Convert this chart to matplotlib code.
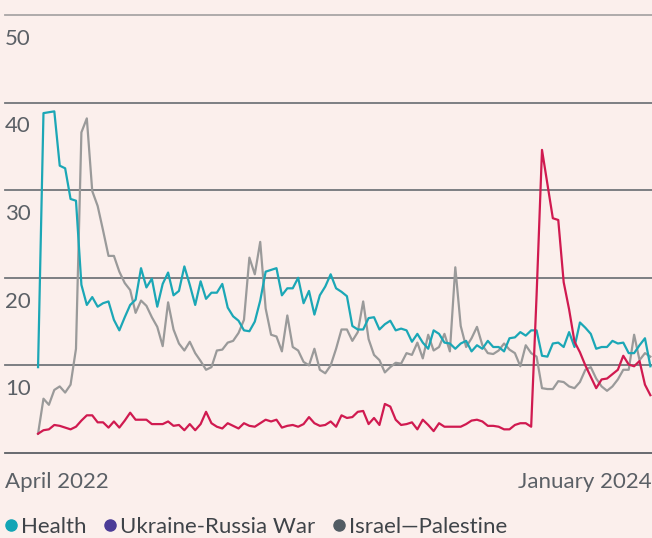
import matplotlib
matplotlib.use("Agg")
import matplotlib.pyplot as plt
from matplotlib.lines import Line2D

# weekly shares (April 2022 -> early 2024)
health = [9.8, 38.8, 38.9, 39.0, 32.8, 32.5, 29.0, 28.8, 19.2, 16.9, 17.8, 16.7, 17.1, 17.3, 15.2, 14.0,
          15.5, 16.9, 17.5, 21.1, 18.9, 19.9, 16.7,
          19.3, 20.6, 18.0, 18.5, 21.3, 19.2, 16.9, 19.6, 17.6, 18.3, 18.3, 19.3, 16.6, 15.6, 15.1, 14.0,
          13.9, 15.0,
          17.4, 20.7, 20.9, 21.1, 18.0, 18.8, 18.8, 20.0, 17.1, 18.5, 15.8, 18.0, 19.0, 20.4, 18.8, 18.4,
          17.9, 14.5, 14.1, 14.1, 15.4,
          15.5, 14.1, 14.7, 15.1, 14.0, 14.2, 14.0, 12.7, 13.6, 12.6, 11.9, 14.0, 13.6, 12.6, 12.5, 11.9,
          12.5, 12.8, 11.6,
          12.3, 11.9, 12.8, 12.1, 12.1, 11.6, 13.1, 13.2, 13.8, 13.4, 14.0, 14.0, 11.1, 11.0, 12.5, 12.6,
          12.1, 13.8, 12.1, 14.9,
          14.3, 13.6, 11.9, 12.1, 12.1, 12.8, 12.5, 12.6, 11.4, 11.4, 12.3, 13.1, 9.9]

ukraine_russia = [2.2, 2.6, 2.7, 3.2, 3.1, 2.9, 2.7, 3.0, 3.7, 4.3, 4.3, 3.5, 3.5, 2.9, 3.6, 2.9,
                  3.7, 4.6, 3.8, 3.8, 3.8, 3.3, 3.3,
                  3.3, 3.6, 3.1, 3.2, 2.6, 3.3, 2.6, 3.3, 4.7, 3.4, 3.0, 2.8, 3.4, 3.1, 2.8, 3.4, 3.1, 3.0,
                  3.4, 3.8, 3.6, 3.8, 2.9, 3.1, 3.2, 3.0, 3.3, 4.1, 3.4, 3.1, 3.2, 3.6, 3.0, 4.3, 4.0,
                  4.1, 4.7, 4.8, 3.3,
                  4.0, 3.2, 5.6, 5.3, 3.8, 3.2, 3.3, 3.5, 2.7, 3.8, 3.2, 2.5, 3.4, 3.0, 3.0, 3.0, 3.0,
                  3.3, 3.7,
                  3.8, 3.6, 3.1, 3.1, 3.0, 2.7, 2.7, 3.2, 3.4, 3.4, 3.0, 18.0, 34.6, 30.7, 26.8, 26.6,
                  19.5, 16.4, 12.7, 11.5,
                  10.0, 8.7, 7.4, 8.4, 8.5, 9.0, 9.5, 11.1, 10.1, 9.9, 10.5, 7.8, 6.6]

israel_palestine = [2.2, 6.2, 5.5, 7.2, 7.6, 6.9, 7.8, 11.9, 36.6, 38.2, 29.9, 28.2, 25.4, 22.5, 22.5,
                    20.7, 19.4, 18.6, 16.0, 17.4, 16.8, 15.5, 14.4,
                    12.2, 17.2, 14.1, 12.5, 11.7, 12.7, 11.4, 10.5, 9.5, 9.8, 11.7, 11.8, 12.6,
                    12.8, 13.7, 15.2, 22.3, 20.4, 24.1, 16.5, 13.5, 13.3, 11.6, 15.7, 12.1, 11.7, 10.4,
                    10.0, 11.9, 9.5, 9.1, 10.0, 11.9, 14.1, 14.1, 12.8, 13.8, 17.3, 13.0,
                    11.2, 10.6, 9.2, 9.8, 10.3, 10.2, 11.4, 11.2, 12.6, 10.8, 13.5, 11.7, 12.1, 13.6,
                    11.6, 21.2, 14.5, 12.1, 13.1,
                    14.4, 12.3, 11.4, 11.3, 11.7, 12.5, 11.8, 11.4, 9.9, 12.3, 11.4, 11.0, 7.4, 7.3,
                    7.3, 8.2, 8.1, 7.6, 7.4, 8.1,
                    9.5, 9.8, 8.5, 7.6, 7.1, 7.6, 8.4, 9.5, 9.5, 13.5, 10.6, 11.4, 11.0]

y_ticks = [10, 20, 30, 40, 50]
x_labels = ["April 2022", "January 2024"]
legend_labels = ["Health", "Ukraine-Russia War", "Israel\u2014Palestine"]
legend_colors = ["#12a5b5", "#4b3c97", "#525c64"]

bg = "#fbefec"
weeks = list(range(len(health)))

fig = plt.figure(figsize=(6.52, 5.38), dpi=100, facecolor=bg)
ax = fig.add_axes([5 / 652, 85 / 538, 647 / 652, 438 / 538], facecolor=bg)

ax.plot(weeks, israel_palestine, color="#9a9a9a", lw=1.6, zorder=3)
ax.plot(weeks, health, color="#1ba7b6", lw=1.6, zorder=4)
ax.plot(weeks, ukraine_russia, color="#d01a50", lw=1.6, zorder=5)

# gridlines
for v in [0] + y_ticks:
    c = "#5c6065" if v == 0 else ("#a8a5a6" if v == 50 else "#72767b")
    ax.axhline(v, color=c, lw=1.3, zorder=1, clip_on=False)

ax.set_ylim(0, 50)
ax.set_xlim(-6.1, 113.3)
for s in ax.spines.values():
    s.set_visible(False)
ax.set_yticks([])

# y labels sit below their gridline
for v in y_ticks:
    ax.annotate(str(v), xy=(0, v), xycoords=("axes fraction", "data"),
                xytext=(0, -10), textcoords="offset points", ha="left", va="top",
                fontsize=16, color="#5b6066", family="Lato")

ax.set_xticks([-6.1, 113.3])
ax.set_xticklabels(x_labels, fontsize=16, color="#5b6066", family="Lato")
ax.tick_params(axis="x", length=0, pad=14)
lbls = ax.get_xticklabels()
lbls[0].set_ha("left")
lbls[1].set_ha("right")

handles = [Line2D([], [], ls="none", marker="o", ms=8, color=c) for c in legend_colors]
fig.legend(handles, legend_labels, loc="lower left", bbox_to_anchor=(-0.005, -0.014),
           ncol=3, frameon=False, handlelength=0.5, handletextpad=0.2, columnspacing=0.8,
           borderaxespad=0, prop={"family": "Lato", "size": 16}, labelcolor="#3f4449")

fig.savefig("out.png", dpi=100, facecolor=bg)
